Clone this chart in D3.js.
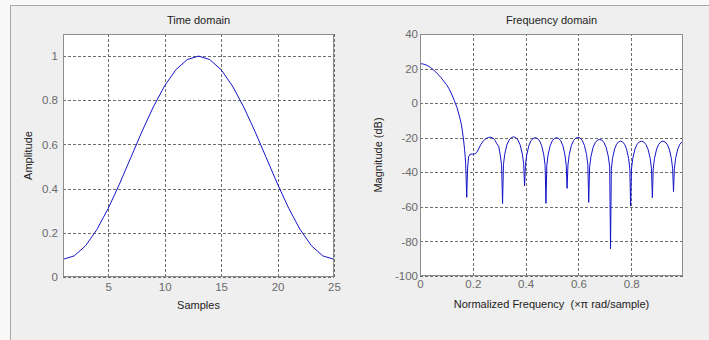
<!DOCTYPE html>
<html>
<head>
<meta charset="utf-8">
<script src="https://cdn.jsdelivr.net/npm/d3@7"></script>
<style>
  body { margin: 0; background: #f8f8f8; }
  svg text { font-family: "Liberation Sans", Arial, sans-serif; white-space: pre; }
</style>
</head>
<body>
<svg id="chart" width="709" height="340"></svg>
<script>
// time domain: window samples
const samples = d3.range(1, 26);
const amplitude = [0.08, 0.0957, 0.1416, 0.2147, 0.31, 0.4209, 0.54, 0.6591, 0.77, 0.8653,
  0.9384, 0.9843, 1.0, 0.9843, 0.9384, 0.8653, 0.77, 0.6591, 0.54, 0.4209,
  0.31, 0.2147, 0.1416, 0.0957, 0.08];

// frequency domain: magnitude response
const freq = [
  0, 0.01, 0.02, 0.03, 0.04, 0.05, 0.06, 0.07, 0.08, 0.09, 0.1, 0.11, 0.12, 0.13, 0.14, 0.15, 0.157, 0.164, 0.169, 0.173, 0.177,
  0.180, 0.184, 0.19, 0.2, 0.208, 0.215, 0.222, 0.23, 0.24, 0.25, 0.26, 0.268, 0.276, 0.284, 0.291, 0.298, 0.304, 0.309, 0.3127,
  0.316, 0.321, 0.329, 0.3377, 0.346, 0.354, 0.3627, 0.371, 0.379, 0.3877, 0.3927, 0.396,
  0.3992, 0.4041, 0.4122, 0.4203, 0.4284, 0.4365, 0.4446, 0.4527, 0.4608, 0.4689, 0.4738, 0.477,
  0.4802, 0.485, 0.493, 0.501, 0.509, 0.517, 0.525, 0.533, 0.541, 0.549, 0.5538, 0.557,
  0.5603, 0.5652, 0.5734, 0.5816, 0.5898, 0.598, 0.6062, 0.6144, 0.6226, 0.6308, 0.6357, 0.639,
  0.6423, 0.6473, 0.6555, 0.6638, 0.672, 0.6803, 0.6886, 0.6968, 0.7051, 0.7133, 0.7183, 0.7216,
  0.7246, 0.7292, 0.7368, 0.7444, 0.752, 0.7596, 0.7672, 0.7748, 0.7824, 0.79, 0.7946, 0.7976,
  0.8009, 0.8058, 0.8141, 0.8223, 0.8306, 0.8388, 0.847, 0.8553, 0.8635, 0.8718, 0.8767, 0.88,
  0.8832, 0.888, 0.896, 0.904, 0.912, 0.92, 0.928, 0.936, 0.944, 0.952, 0.9568, 0.96,
  0.9632, 0.968, 0.976, 0.984, 0.992, 0.996
];
const magDb = [
  22.8, 22.7, 22.3, 21.6, 20.6, 19.4, 18, 16.4, 14.7, 12.7, 10.8, 8.3, 5.2, 1.5, -2.5, -8, -12.5, -20, -27, -35, -54.5,
  -38, -31, -29.5, -29.5, -29.3, -28.5, -26.5, -24, -21.8, -20.5, -19.8, -19.7, -20.2, -21.5, -23.5, -25, -30, -36, -58,
  -35.5, -29.5, -24.1, -21.3, -19.9, -19.5, -19.9, -21.3, -24.1, -29.5, -35.5, -47.8,
  -36, -30, -24.6, -21.8, -20.4, -20, -20.4, -21.8, -24.6, -30, -36, -58,
  -36, -30, -24.6, -21.8, -20.4, -20, -20.4, -21.8, -24.6, -30, -36, -49.3,
  -35.8, -29.8, -24.4, -21.6, -20.2, -19.8, -20.2, -21.6, -24.4, -29.8, -35.8, -57.4,
  -37, -31, -25.6, -22.8, -21.4, -21, -21.4, -22.8, -25.6, -31, -37, -84.2,
  -38, -32, -26.6, -23.8, -22.4, -22, -22.4, -23.8, -26.6, -32, -38, -59.5,
  -38, -32, -26.6, -23.8, -22.4, -22, -22.4, -23.8, -26.6, -32, -38, -54.7,
  -38, -32, -26.6, -23.8, -22.4, -22, -22.4, -23.8, -26.6, -32, -38, -51.2,
  -38, -32, -26.6, -23.8, -22.4, -22.1
];

const timeXTicks = [5, 10, 15, 20, 25];
const timeYTicks = [0, 0.2, 0.4, 0.6, 0.8, 1];
const timeYLabels = ['0', '0.2', '0.4', '0.6', '0.8', '1'];
const freqXTicks = [0, 0.2, 0.4, 0.6, 0.8];
const freqXLabels = ['0', '0.2', '0.4', '0.6', '0.8'];
const freqYTicks = [-100, -80, -60, -40, -20, 0, 20, 40];
const freqYLabels = ['-100', '-80', '-60', '-40', '-20', '0', '20', '40'];

const svg = d3.select('#chart');

// window panel
svg.append('rect')
  .attr('x', 10).attr('y', 5).attr('width', 710).attr('height', 340)
  .attr('fill', '#efefef');
svg.append('path')
  .attr('d', 'M10.5,340V5.5H709')
  .attr('fill', 'none').attr('stroke', '#a8a8a8');

function drawPanel(opts) {
  const { left, top, width, height } = opts;
  const g = svg.append('g').attr('transform', `translate(${left},${top})`);

  const x = d3.scaleLinear().domain(opts.xDomain).range([0, width]);
  const y = d3.scaleLinear().domain(opts.yDomain).range([height, 0]);

  g.append('rect')
    .attr('width', width).attr('height', height)
    .attr('fill', '#fff');

  // grid
  const gx = g.append('g')
    .attr('transform', `translate(0,${height})`)
    .call(d3.axisBottom(x).tickValues(opts.xTicks).tickSizeInner(-height).tickSizeOuter(0)
      .tickPadding(opts.xPad).tickFormat((d, i) => opts.xLabels[i]));
  const gy = g.append('g')
    .call(d3.axisLeft(y).tickValues(opts.yTicks).tickSizeInner(-width).tickSizeOuter(0)
      .tickPadding(opts.yPad).tickFormat((d, i) => opts.yLabels[i]));

  [gx, gy].forEach(a => {
    a.select('.domain').remove();
    a.selectAll('line')
      .attr('stroke', '#6e6e6e')
      .attr('stroke-dasharray', '3,2')
      .attr('shape-rendering', 'crispEdges');
    a.selectAll('text')
      .attr('fill', '#6a6a6a')
      .style('font-size', '11.5px');
  });

  g.append('path')
    .datum(opts.xs.map((d, i) => [d, opts.ys[i]]))
    .attr('fill', 'none')
    .attr('stroke', '#1414c8')
    .attr('stroke-width', 1)
    .attr('d', d3.line().x(d => x(d[0])).y(d => y(d[1])));

  g.append('rect')
    .attr('x', 0.5).attr('y', 0.5)
    .attr('width', width - 1).attr('height', height - 1)
    .attr('fill', 'none')
    .attr('stroke', '#8c8c8c')
    .attr('shape-rendering', 'crispEdges');

  g.append('text')
    .attr('x', width / 2).attr('y', -10)
    .attr('text-anchor', 'middle')
    .attr('fill', '#222')
    .style('font-size', '11px')
    .text(opts.title);

  g.append('text')
    .attr('x', width / 2).attr('y', height + 32)
    .attr('text-anchor', 'middle')
    .attr('fill', '#222')
    .style('font-size', '11px')
    .text(opts.xTitle);

  g.append('text')
    .attr('transform', `translate(${opts.yTitleX},${height / 2}) rotate(-90)`)
    .attr('text-anchor', 'middle')
    .attr('fill', '#222')
    .style('font-size', '11px')
    .text(opts.yTitle);
}

drawPanel({
  left: 63, top: 34, width: 271, height: 243,
  xDomain: [1, 25], yDomain: [0, 1.1],
  xTicks: timeXTicks, xLabels: timeXTicks.map(String),
  yTicks: timeYTicks, yLabels: timeYLabels,
  xPad: 6, yPad: 5,
  xs: samples, ys: amplitude,
  title: 'Time domain', xTitle: 'Samples', yTitle: 'Amplitude', yTitleX: -31
});

drawPanel({
  left: 420, top: 34, width: 263, height: 242,
  xDomain: [0, 0.996], yDomain: [-100, 40],
  xTicks: freqXTicks, xLabels: freqXLabels,
  yTicks: freqYTicks, yLabels: freqYLabels,
  xPad: 4, yPad: 2,
  xs: freq, ys: magDb,
  title: 'Frequency domain', xTitle: 'Normalized Frequency  (\u00d7\u03c0 rad/sample)',
  yTitle: 'Magnitude (dB)', yTitleX: -38
});
</script>
</body>
</html>
